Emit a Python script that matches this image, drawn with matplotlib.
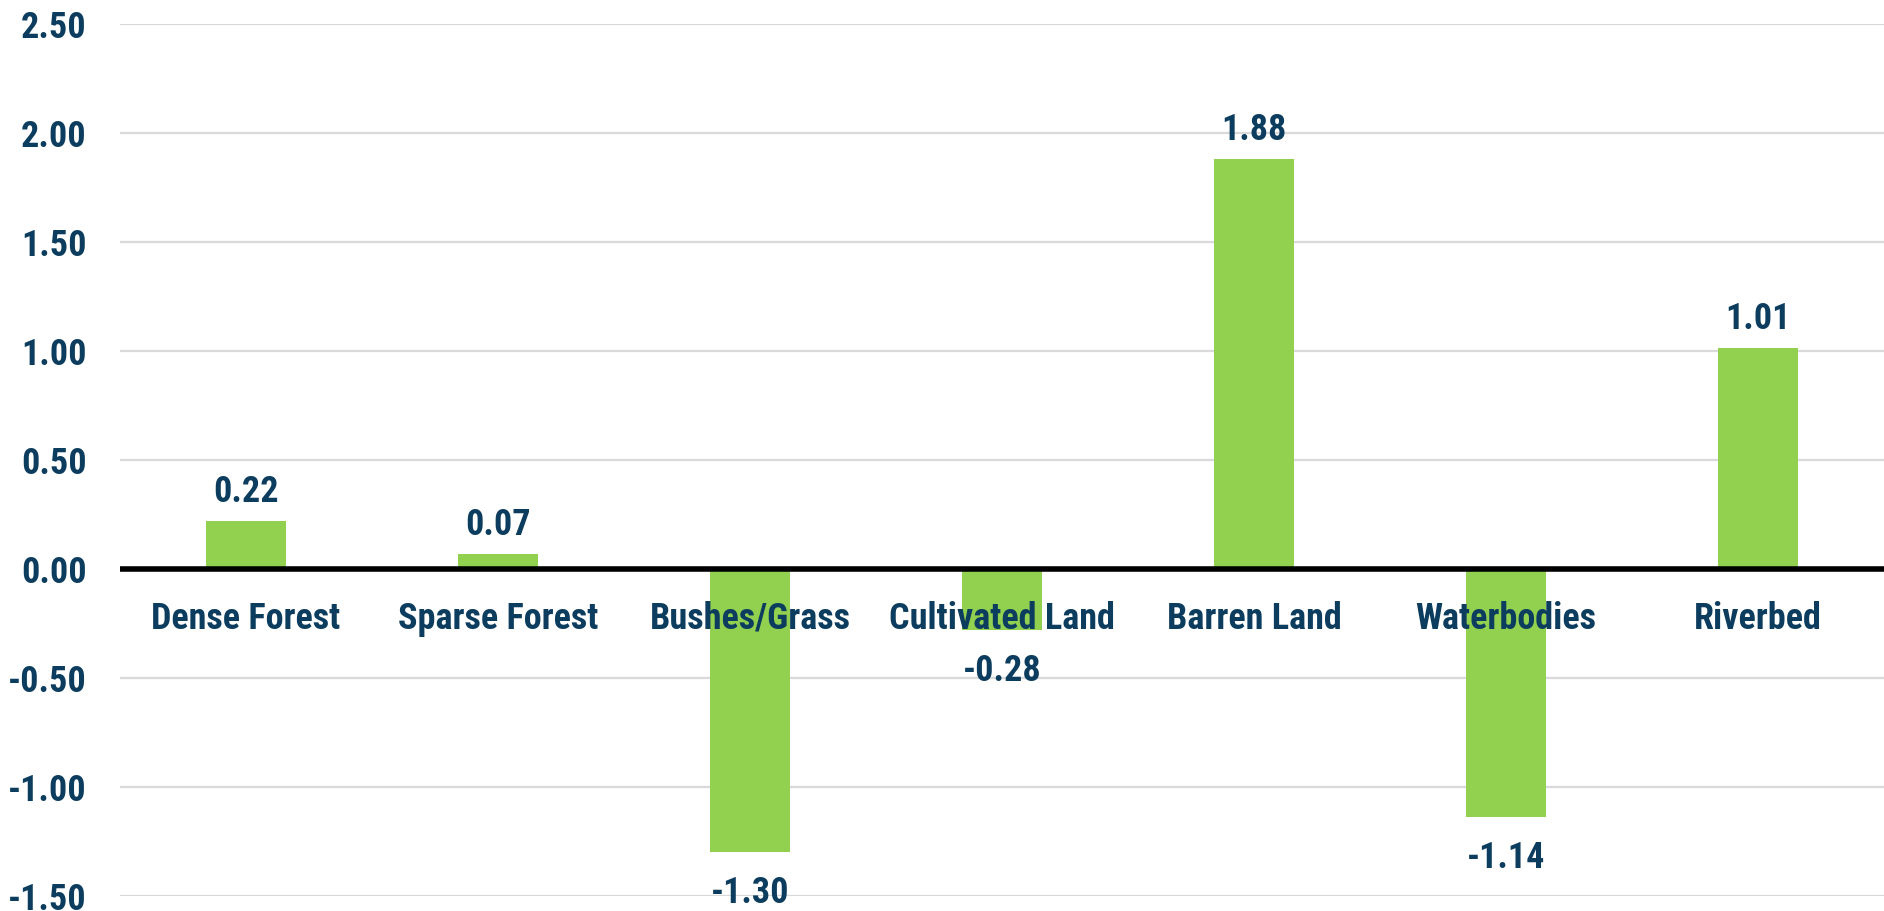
import matplotlib
matplotlib.use("Agg")
import matplotlib.pyplot as plt
from matplotlib.ticker import FuncFormatter

categories = ["Dense Forest", "Sparse Forest", "Bushes/Grass", "Cultivated Land",
              "Barren Land", "Waterbodies", "Riverbed"]
values = [0.22, 0.07, -1.30, -0.28, 1.88, -1.14, 1.01]
yticks = [-1.5, -1.0, -0.5, 0.0, 0.5, 1.0, 1.5, 2.0, 2.5]

navy = "#0C3D5E"
green = "#92D050"

plt.rcParams["font.family"] = ["Liberation Sans Narrow", "Arial Narrow", "Roboto Condensed",
                               "PT Sans Narrow", "Archivo Narrow", "DejaVu Sans"]
plt.rcParams["font.weight"] = "bold"
plt.rcParams["axes.unicode_minus"] = False
FS = 26

fig = plt.figure(figsize=(18.84, 9.11), dpi=100)
ax = fig.add_axes([0.0637, 0.0165, 0.9363, 0.9577])

x = range(len(categories))
ax.bar(x, values, width=0.32, color=green, zorder=2)
ax.axhline(0, color="black", lw=4, zorder=3)

ax.set_xlim(-0.5, len(categories) - 0.5)
ax.set_ylim(-1.5, 2.5)
ax.set_yticks(yticks)
ax.yaxis.set_major_formatter(FuncFormatter(lambda v, p: f"{v:.2f}"))
ax.tick_params(axis="y", length=0, pad=24, labelsize=FS, labelcolor=navy)
ax.set_xticks([])
ax.yaxis.grid(True, color="#D9D9D9", lw=1.6, zorder=0)
ax.set_axisbelow(True)
for s in ax.spines.values():
    s.set_visible(False)

# category names sit just under the zero line
for i, name in enumerate(categories):
    ax.annotate(name, (i, 0), xytext=(0, -46), textcoords="offset pixels",
                ha="center", va="center_baseline", fontsize=FS, color=navy,
                fontweight="bold", zorder=4)

# value labels above positive bars, below negative ones
for i, v in enumerate(values):
    off = 33 if v >= 0 else -37
    ax.annotate(f"{v:.2f}", (i, v), xytext=(0, off), textcoords="offset pixels",
                ha="center", va="center_baseline", fontsize=FS, color=navy,
                fontweight="bold", zorder=4)

fig.savefig("out.png", dpi=100)
